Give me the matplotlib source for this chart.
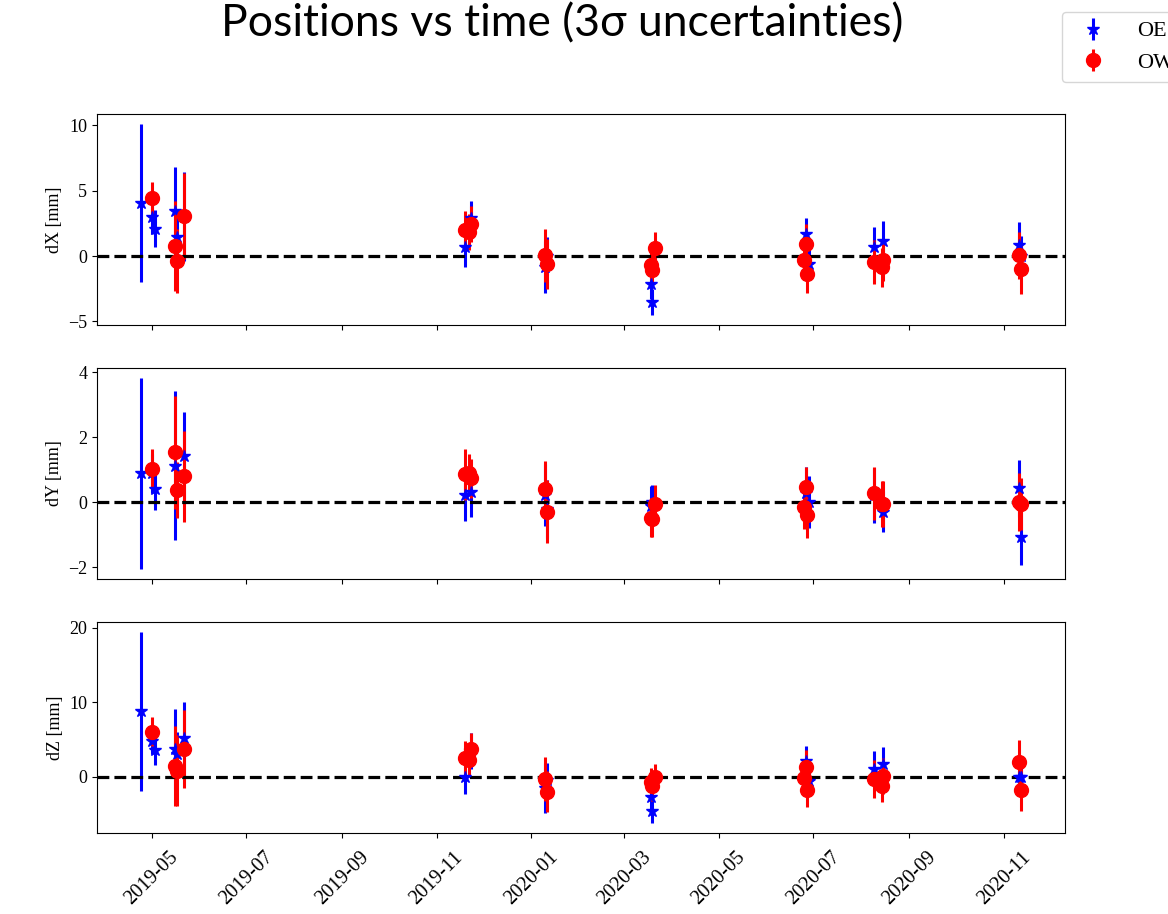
import matplotlib
matplotlib.use("Agg")
import matplotlib.pyplot as plt
import matplotlib.dates as mdates
import numpy as np
import pandas as pd

# ---- data ----
oe_dates = ["2019-04-24", "2019-05-01", "2019-05-03", "2019-05-16", "2019-05-17", "2019-05-22",
            "2019-11-19", "2019-11-23", "2020-01-10", "2020-01-11", "2020-03-18", "2020-03-19",
            "2020-06-26", "2020-06-28", "2020-08-09", "2020-08-15", "2020-11-11", "2020-11-12"]
oe_dx = [4.08, 3.0, 2.1, 3.46, 1.46, 3.0, 0.69, 2.88, -0.85, 0.0, -2.12, -3.54, 1.72, -0.6, 0.69, 1.13, 0.82, 0.0]
oe_dx_err = [6.05, 1.3, 1.4, 3.34, 2.0, 3.4, 1.5, 1.3, 2.0, 1.46, 1.2, 1.0, 1.2, 1.2, 1.55, 1.55, 1.75, 1.5]
oe_dy = [0.89, 0.9, 0.4, 1.13, 0.35, 1.44, 0.22, 0.33, 0.22, -0.2, -0.1, 0.0, 0.28, 0.0, 0.22, -0.29, 0.43, -1.06]
oe_dy_err = [2.95, 0.6, 0.64, 2.3, 0.8, 1.33, 0.8, 0.77, 0.95, 0.9, 0.6, 0.55, 0.8, 0.8, 0.85, 0.63, 0.87, 0.85]
oe_dz = [8.8, 4.85, 3.6, 3.73, 3.06, 5.2, -0.08, 3.5, -1.5, -0.5, -2.77, -4.57, 2.15, -0.62, 1.04, 1.71, -0.08, 0.0]
oe_dz_err = [10.7, 1.8, 2.0, 5.4, 3.0, 4.9, 2.2, 2.4, 3.4, 2.4, 1.8, 1.7, 2.0, 2.0, 2.4, 2.3, 2.5, 2.5]

ow_dates = ["2019-05-01", "2019-05-16", "2019-05-17", "2019-05-22", "2019-11-19", "2019-11-22",
            "2019-11-23", "2020-01-10", "2020-01-11", "2020-03-18", "2020-03-19", "2020-03-21",
            "2020-06-25", "2020-06-26", "2020-06-27", "2020-08-09", "2020-08-14", "2020-08-15",
            "2020-11-11", "2020-11-12"]
ow_dx = [4.41, 0.75, -0.38, 3.05, 1.98, 1.85, 2.44, 0.05, -0.59, -0.72, -1.05, 0.62, -0.33, 0.95, -1.35,
         -0.46, -0.85, -0.33, 0.05, -0.97]
ow_dx_err = [1.28, 3.45, 2.47, 3.3, 1.5, 1.4, 1.4, 2.05, 1.9, 1.2, 1.2, 1.2, 1.5, 1.5, 1.5, 1.66, 1.5, 1.6, 1.8, 1.9]
ow_dy = [1.02, 1.54, 0.38, 0.8, 0.86, 0.89, 0.75, 0.41, -0.29, -0.47, -0.5, -0.05, -0.13, 0.48, -0.39,
         0.28, -0.05, -0.05, 0.02, -0.05]
ow_dy_err = [0.62, 1.74, 0.85, 1.4, 0.78, 0.6, 0.6, 0.86, 0.97, 0.6, 0.55, 0.6, 0.7, 0.62, 0.7, 0.82, 0.7, 0.7, 0.9, 0.8]
ow_dz = [6.06, 1.48, 0.81, 3.73, 2.52, 2.25, 3.73, -0.3, -2.0, -0.67, -1.2, -0.08, -0.21, 1.35, -1.79,
         -0.3, -1.2, 0.14, 1.94, -1.75]
ow_dz_err = [1.9, 5.4, 4.8, 5.2, 2.3, 2.3, 2.2, 2.9, 2.8, 1.9, 2.0, 1.8, 2.3, 2.3, 2.25, 2.5, 2.2, 2.4, 3.0, 2.8]

ylabels = ["dX [mm]", "dY [mm]", "dZ [mm]"]
yticks = [[-5, 0, 5, 10], [-2, 0, 2, 4], [0, 10, 20]]
title = "Positions vs time (3σ uncertainties)"
legend_labels = ["OE", "OW"]

# ---- plot ----
plt.rcParams['font.family'] = ['Liberation Serif', 'DejaVu Serif']
W, H = 1168, 914
fig = plt.figure(figsize=(W / 100, H / 100), dpi=100)

oe_t = pd.to_datetime(oe_dates)
ow_t = pd.to_datetime(ow_dates)
oe_vals = [(oe_dx, oe_dx_err), (oe_dy, oe_dy_err), (oe_dz, oe_dz_err)]
ow_vals = [(ow_dx, ow_dx_err), (ow_dy, ow_dy_err), (ow_dz, ow_dz_err)]

left, width = 97 / W, 968 / W
tops = [114, 368, 622]
hpx = 211
axes = []
for i in range(3):
    bottom = 1 - (tops[i] + hpx) / H
    ax = fig.add_axes([left, bottom, width, hpx / H], sharex=axes[0] if axes else None)
    axes.append(ax)
    y1, e1 = oe_vals[i]
    y2, e2 = ow_vals[i]
    h1 = ax.errorbar(oe_t, y1, yerr=e1, fmt='b*', markersize=9, elinewidth=2.2, capsize=0, linestyle='none')
    h2 = ax.errorbar(ow_t, y2, yerr=e2, fmt='ro', markersize=10, elinewidth=2.2, capsize=0, linestyle='none')
    ax.axhline(0, color='k', linestyle='--', linewidth=2.3)
    ax.set_ylabel(ylabels[i], fontsize=13)
    ax.set_yticks(yticks[i])
    ax.tick_params(axis='y', labelsize=13)
    if i < 2:
        ax.tick_params(labelbottom=False)

axes[-1].xaxis.set_major_locator(mdates.MonthLocator(bymonth=[1, 3, 5, 7, 9, 11]))
axes[-1].xaxis.set_major_formatter(mdates.DateFormatter('%Y-%m'))
axes[-1].tick_params(axis='x', labelsize=14.5, pad=7)
for lab in axes[-1].get_xticklabels():
    lab.set_rotation(45)
    lab.set_ha('center')

fig.suptitle(title, x=562 / W, y=1 - 24 / H, va='center', fontsize=32, family=['Lato', 'DejaVu Sans'])
fig.legend([h1, h2], legend_labels, loc='upper left', bbox_to_anchor=(1062 / W, 1 - 12 / H),
           fontsize=16, borderaxespad=0, handletextpad=1.0)

fig.savefig("out.png", dpi=100)
